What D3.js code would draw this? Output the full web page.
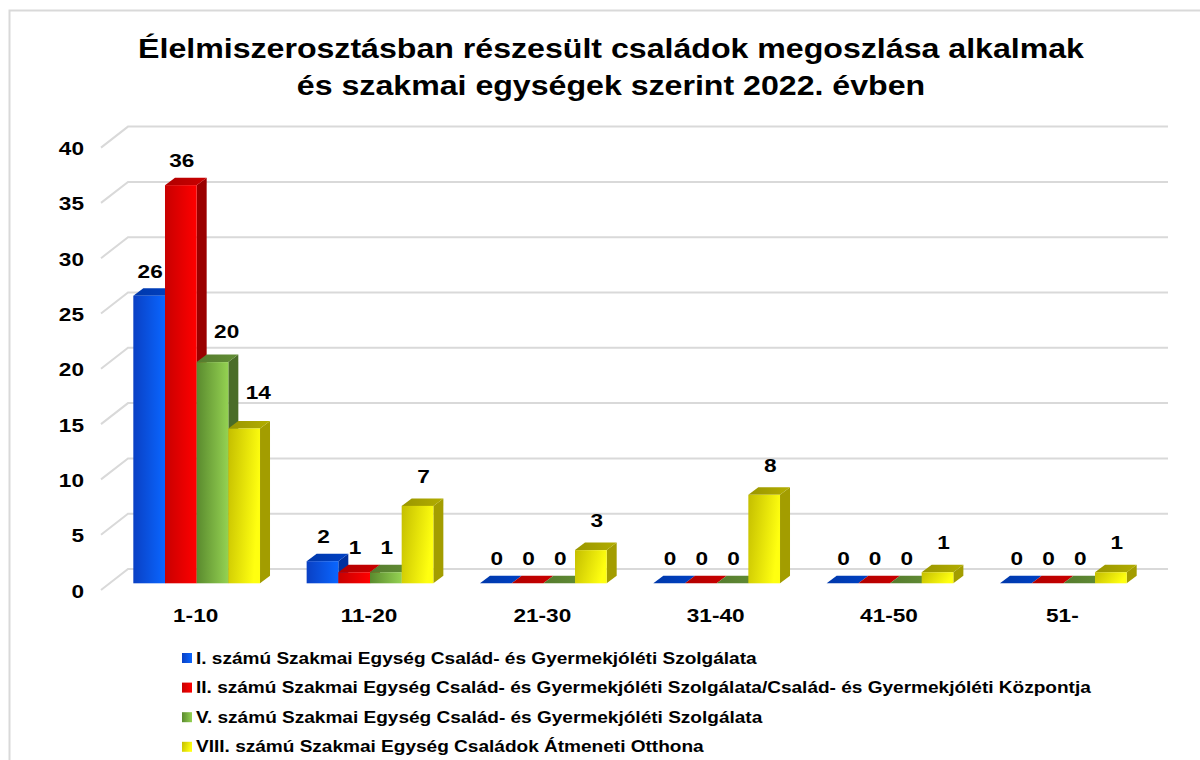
<!DOCTYPE html>
<html>
<head>
<meta charset="utf-8">
<script src="https://cdn.jsdelivr.net/npm/d3@7"></script>
<style>
  body { margin: 0; background: #fff; }
  text { font-family: "Liberation Sans", Arial, sans-serif; font-weight: bold; fill: #000; }
</style>
</head>
<body>
<div id="chart"></div>
<script>
// data
let categories = ["1-10", "11-20", "21-30", "31-40", "41-50", "51-"];
let seriesNames = [
  "I. számú Szakmai Egység Család- és Gyermekjóléti Szolgálata",
  "II. számú Szakmai Egység Család- és Gyermekjóléti Szolgálata/Család- és Gyermekjóléti Központja",
  "V. számú Szakmai Egység Család- és Gyermekjóléti Szolgálata",
  "VIII. számú Szakmai Egység Családok Átmeneti Otthona"
];
let unit1 = [26, 2, 0, 0, 0, 0];
let unit2 = [36, 1, 0, 0, 0, 0];
let unit5 = [20, 1, 0, 0, 0, 0];
let unit8 = [14, 7, 3, 8, 1, 1];
let titleLines = [
  "Élelmiszerosztásban részesült családok megoszlása alkalmak",
  "és szakmai egységek szerint 2022. évben"
];

let allSeries = [unit1, unit2, unit5, unit8];

// colours: [front dark, front light, side, top]
let palette = [
  ["#0a40c4", "#0a66ff", "#00309e", "#0038aa"],
  ["#c80000", "#ff0000", "#9a0000", "#b00000"],
  ["#5a8a2e", "#94d252", "#4a6d28", "#557b2e"],
  ["#c4be00", "#ffff10", "#a39d00", "#9a9600"]
];

// the original picture is a bit wider than tall, so text is stretched sideways
let stretch = 1.19;

let svgWidth = 1200, svgHeight = 760;
let svg = d3.select("#chart").append("svg")
  .attr("width", svgWidth)
  .attr("height", svgHeight);

function addText(parent, x, y, str, size, anchor) {
  return parent.append("text")
    .attr("transform", `translate(${x},${y}) scale(${stretch},1)`)
    .attr("text-anchor", anchor || "middle")
    .style("font-size", size + "px")
    .text(str);
}

let defs = svg.append("defs");
palette.forEach((c, i) => {
  let g = defs.append("linearGradient")
    .attr("id", "front" + i)
    .attr("x1", 0).attr("y1", 0).attr("x2", 1).attr("y2", i === 3 ? 0.3 : 0);
  g.append("stop").attr("offset", "0%").attr("stop-color", c[0]);
  g.append("stop").attr("offset", "100%").attr("stop-color", c[1]);
  let t = defs.append("linearGradient")
    .attr("id", "top" + i)
    .attr("x1", 0).attr("y1", 0).attr("x2", 1).attr("y2", 0);
  t.append("stop").attr("offset", "0%").attr("stop-color", c[3]);
  t.append("stop").attr("offset", "100%").attr("stop-color", d3.color(c[3]).brighter(0.4));
});

// outer frame
svg.append("rect")
  .attr("x", 9.5).attr("y", 10.5)
  .attr("width", 1300).attr("height", 900)
  .attr("fill", "none")
  .attr("stroke", "#d9d9d9")
  .attr("stroke-width", 2);

// title
titleLines.forEach((line, i) => addText(svg, 611, 58 + i * 37, line, 27));

// scales (back wall)
let yScale = d3.scaleLinear().domain([0, 40]).range([569, 126.6]);
let xScale = d3.scaleBand().domain(categories).range([110, 1150]);
let groupWidth = 126.7;
let xInner = d3.scaleBand().domain(d3.range(allSeries.length)).range([0, groupWidth]);

let wallLeft = 128, wallRight = 1168;
let floorDx = 27, floorDy = 21;
let barShift = 14.3; // front face of bars sits in front of back wall
let depthX = 10, depthY = 7.5;

// gridlines
let ticks = yScale.ticks(8);
let grid = svg.append("g").attr("stroke", "#d9d9d9").attr("stroke-width", 2).attr("fill", "none");
ticks.forEach(t => {
  grid.append("polyline")
    .attr("points", `${wallLeft - floorDx},${yScale(t) + floorDy} ${wallLeft},${yScale(t)} ${wallRight},${yScale(t)}`);
});

// y tick labels
let yLabels = svg.append("g");
ticks.forEach(t => addText(yLabels, 84, yScale(t) + 28.5, t, 19, "end"));

// category labels
let xLabels = svg.append("g");
categories.forEach(c => addText(xLabels, xScale(c) + xScale.bandwidth() / 2 - 1, 622, c, 19));

// 3D bars, drawn left to right so each front covers the previous side
let bars = svg.append("g");
let labels = svg.append("g");
let barY = v => yScale(v) + barShift;
let offset = (xScale.bandwidth() - groupWidth) / 2;

categories.forEach((cat, ci) => {
  allSeries.forEach((vals, si) => {
    let v = vals[ci];
    let x = xScale(cat) + offset + xInner(si);
    let w = xInner.bandwidth();
    let top = barY(v), bottom = barY(0);
    let g = bars.append("g");
    g.append("polygon")
      .attr("points", `${x + w},${top} ${x + w + depthX},${top - depthY} ${x + w + depthX},${bottom - depthY} ${x + w},${bottom}`)
      .attr("fill", palette[si][2]);
    g.append("polygon")
      .attr("points", `${x},${top} ${x + depthX},${top - depthY} ${x + w + depthX},${top - depthY} ${x + w},${top}`)
      .attr("fill", "url(#top" + si + ")");
    if (v > 0) {
      g.append("rect")
        .attr("x", x).attr("y", top)
        .attr("width", w).attr("height", bottom - top)
        .attr("fill", "url(#front" + si + ")");
    }

    // value label, pushed right when the previous bar is taller
    let lx = x + w / 2 + (si === 3 ? 6 : 1);
    let ly = top - (si === 3 ? 23 : 18);
    if (si > 0) {
      let prev = allSeries[si - 1][ci];
      if (prev > v && barY(prev) - depthY < ly - 4) {
        let half = String(v).length * 6;
        lx = Math.max(lx, x + depthX + 8 + half);
        ly -= 6;
      }
    }
    addText(labels, lx, ly, v, 19);
  });
});

// legend
seriesNames.forEach((name, i) => {
  let row = svg.append("g").attr("transform", `translate(182, ${653 + i * 29.6})`);
  row.append("rect")
    .attr("width", 10).attr("height", 10)
    .attr("fill", "url(#front" + i + ")");
  addText(row, 14, 10.5, name, 16, "start");
});
</script>
</body>
</html>
